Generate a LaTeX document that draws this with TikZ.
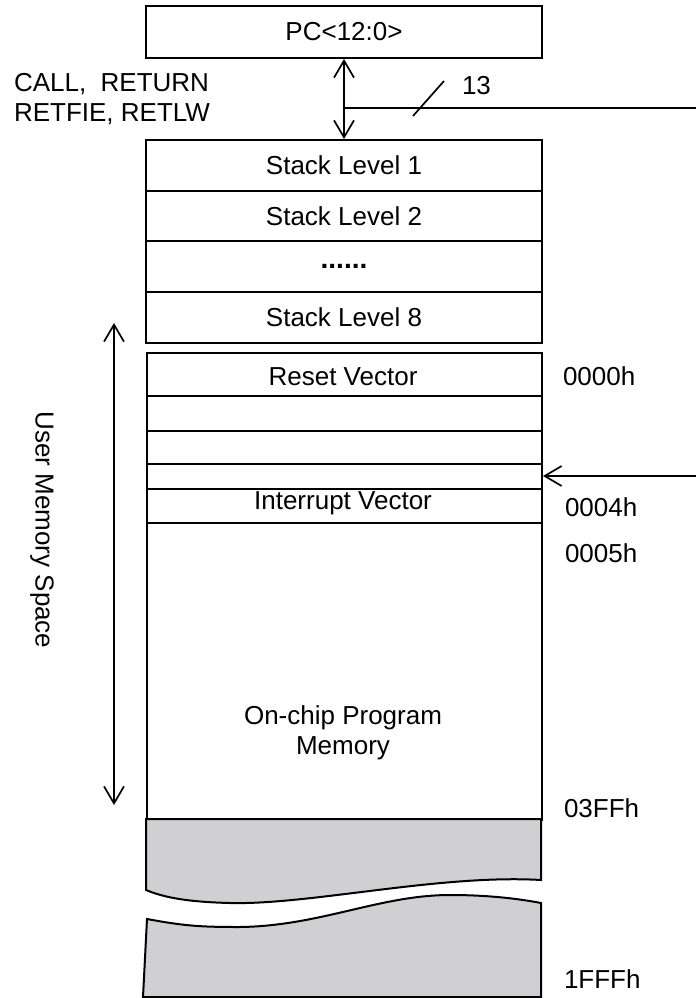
\documentclass[tikz,border=0pt]{standalone}
\usepackage{fontspec}
\setmainfont{Liberation Sans}
\usetikzlibrary{arrows.meta}
\definecolor{memgrey}{RGB}{208,207,209}
\begin{document}
\begin{tikzpicture}[x=1pt,y=-1pt,line width=2pt,
  txt/.style={font=\fontsize{26}{30}\selectfont},
  box/.style={draw,txt,minimum width=396pt,inner sep=0pt,anchor=north west},
  row/.style={draw,txt,minimum width=395pt,inner sep=0pt,anchor=north west},
  lbl/.style={txt,anchor=west,inner sep=0pt},
  conn/.style={line width=1.7pt},
  tipdbl/.style={conn,{Straight Barb[length=17pt,width=20pt]}-{Straight Barb[length=17pt,width=20pt]}},
  tipone/.style={conn,-{Straight Barb[length=17pt,width=20pt]}}]
\useasboundingbox (0,0) rectangle (696,998);
% PC and stack
\node[box,minimum height=52pt] (pc) at (145,5) {PC<12:0>};
\node[box,minimum height=51pt] (s1) at (145,139) {Stack Level 1};
\node[box,minimum height=50pt] (s2) at (145,190) {Stack Level 2};
\node[box,minimum height=51pt] (sd) at (145,240) {\raisebox{-3pt}{\textbf{\fontsize{28}{30}\selectfont ......}}};
\node[box,minimum height=51pt] (s8) at (145,291) {Stack Level 8};
% memory rows
\node[row,minimum height=43pt] (rv) at (146,352) {};
\node[txt] at (343,377) {Reset Vector};
\node[row,minimum height=35pt] (r2) at (146,395) {};
\node[row,minimum height=33pt] (r3) at (146,430) {};
\node[row,minimum height=25pt] (r4) at (146,463) {};
\node[row,minimum height=34pt] (iv) at (146,488) {};
\node[txt] at (343,503) {Interrupt Vector};
\node[row,minimum height=297pt] (main) at (146,522) {};
\node[txt,align=center] (oc) at (343,733) {On-chip Program\\Memory};
% grey regions
\draw[fill=memgrey] (146,819) -- (541,819) -- (541,880)
  .. controls (440,874) and (310,905) .. (230,903)
  .. controls (190,902) and (165,898) .. (146,890) -- cycle;
\draw[fill=memgrey] (147,919)
  .. controls (185,926) and (200,927) .. (240,927)
  .. controls (320,926) and (380,895) .. (450,895)
  .. controls (490,895) and (520,899) .. (541,903)
  -- (541,997) -- (143,997) -- cycle;
% address labels
\node[lbl] (a0) at (562,376) {0000h};
\node[lbl] (a4) at (564,507) {0004h};
\node[lbl] (a5) at (564,553) {0005h};
\node[lbl] (a3) at (563,808) {03FFh};
\node[lbl] (af) at (563,979) {1FFFh};
% PC <-> stack
\draw[tipdbl] (pc.south) -- (s1.north);
\coordinate (tap) at (343,108);
\coordinate (rout) at (696,108);
\draw[conn] (tap) -- (rout);
\draw[conn] (413,116) -- (444,81);
\node[lbl] (n13) at (461,86) {13};
\node[lbl,align=left] (calls) at (13,99) {CALL,\ \ RETURN\\RETFIE, RETLW};
% interrupt arrow
\coordinate (rin) at (696,476);
\draw[tipone] (rin) -- (r4.east |- rin);
% user memory space
\coordinate (ut) at (114,323);
\coordinate (ub) at (114,805);
\draw[tipdbl] (ut) -- (ub);
\node[txt,rotate=-90] (ums) at (42,530) {User Memory Space};
\end{tikzpicture}
\end{document}
